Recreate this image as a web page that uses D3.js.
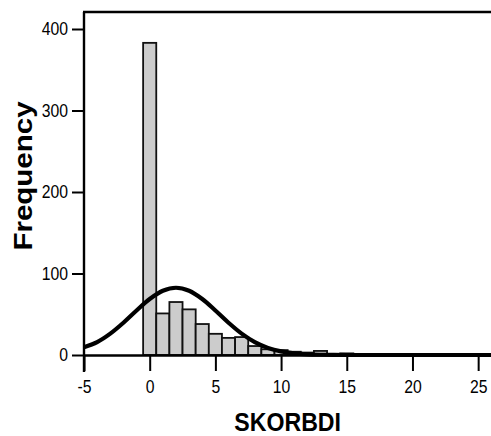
<!DOCTYPE html>
<html>
<head>
<meta charset="utf-8">
<script src="https://cdn.jsdelivr.net/npm/d3@7"></script>
<style>
  body { margin: 0; background: #fff; }
  svg text { font-family: "Liberation Sans", Arial, sans-serif; fill: #000; }
</style>
</head>
<body>
<svg id="chart" width="491" height="436"></svg>
<script>
// Histogram of SKORBDI scores (bins of width 1, centred on integers)
const binCenters = [0, 1, 2, 3, 4, 5, 6, 7, 8, 9, 10, 11, 12, 13, 14, 15, 16, 17];
const binCounts  = [383, 51, 65, 56, 38, 26, 21, 22, 11, 7, 6, 4, 3, 5, 1, 2, 1, 1];

// Fitted normal curve, sampled at integer scores
const curveX = [-5, -4, -3, -2, -1, 0, 1, 2, 3, 4, 5, 6, 7, 8, 9, 10, 11, 12, 13, 14, 15, 16, 17, 18, 19, 20, 21, 22, 23, 24, 25, 26];
const curveY = [9.5, 15.8, 26.2, 39.6, 54.6, 68.7, 78.8, 82.5, 78.8, 68.7, 54.6, 39.6, 26.2, 15.8, 8.7, 4.4, 2.0, 0.8, 0.3, 0.1, 0, 0, 0, 0, 0, 0, 0, 0, 0, 0, 0, 0];

const xTicks = [-5, 0, 5, 10, 15, 20, 25];
const yTicks = [0, 100, 200, 300, 400];

const xTitle = "SKORBDI";
const yTitle = "Frequency";

const svg = d3.select("#chart");

const x = d3.scaleLinear().domain([-5, 26]).range([84, 491.3]);
const y = d3.scaleLinear().domain([0, 400]).range([355, 29]);

const frameTop = 12;

// bars
svg.append("g")
  .selectAll("rect")
  .data(binCenters.map((c, i) => ({ c, n: binCounts[i] })))
  .join("rect")
  .attr("x", d => x(d.c - 0.5))
  .attr("width", d => x(d.c + 0.5) - x(d.c - 0.5))
  .attr("y", d => y(d.n))
  .attr("height", d => y(0) - y(d.n))
  .attr("fill", "#cccccc")
  .attr("stroke", "#111")
  .attr("stroke-width", 1.8);

// x axis
const xAxis = svg.append("g")
  .attr("transform", `translate(0,${y(0)})`)
  .call(d3.axisBottom(x).tickValues(xTicks).tickFormat(d => String(d))
    .tickSize(16).tickSizeOuter(0).tickPadding(10));
xAxis.select(".domain").attr("stroke", "#000").attr("stroke-width", 2.4);
xAxis.selectAll(".tick line").attr("stroke", "#000").attr("stroke-width", 2);
xAxis.selectAll(".tick text")
  .attr("font-size", 17.5)
  .attr("transform", "scale(0.9,1)");

// y axis
const yAxis = svg.append("g")
  .attr("transform", `translate(${x(-5)},0)`)
  .call(d3.axisLeft(y).tickValues(yTicks).tickFormat(d => String(d))
    .tickSize(12).tickSizeOuter(0).tickPadding(4));
yAxis.select(".domain").remove();
yAxis.selectAll(".tick line").attr("stroke", "#000").attr("stroke-width", 2);
yAxis.selectAll(".tick text")
  .attr("font-size", 17.5)
  .attr("transform", "scale(0.9,1)")
  .attr("x", -16 / 0.9);

// frame: left spine (runs below the baseline like a tick) and top edge
svg.append("line")
  .attr("x1", x(-5)).attr("x2", x(-5))
  .attr("y1", frameTop).attr("y2", y(0) + 17)
  .attr("stroke", "#000").attr("stroke-width", 2.4);
svg.append("line")
  .attr("x1", x(-5) - 1).attr("x2", 491)
  .attr("y1", frameTop).attr("y2", frameTop)
  .attr("stroke", "#000").attr("stroke-width", 2.4);

// normal curve
const line = d3.line()
  .x((d, i) => x(curveX[i]))
  .y(d => y(d))
  .curve(d3.curveCatmullRom);
svg.append("path")
  .datum(curveY)
  .attr("d", line)
  .attr("fill", "none")
  .attr("stroke", "#000")
  .attr("stroke-width", 4.2)
  .attr("stroke-linejoin", "round");

// axis titles
svg.append("text")
  .attr("transform", `translate(${x(10.5)},431) scale(0.89,1)`)
  .attr("text-anchor", "middle")
  .attr("font-size", 26)
  .attr("font-weight", "bold")
  .text(xTitle);

svg.append("text")
  .attr("transform", `translate(32,176) rotate(-90) scale(1.18,1)`)
  .attr("text-anchor", "middle")
  .attr("font-size", 25)
  .attr("font-weight", "bold")
  .text(yTitle);
</script>
</body>
</html>
